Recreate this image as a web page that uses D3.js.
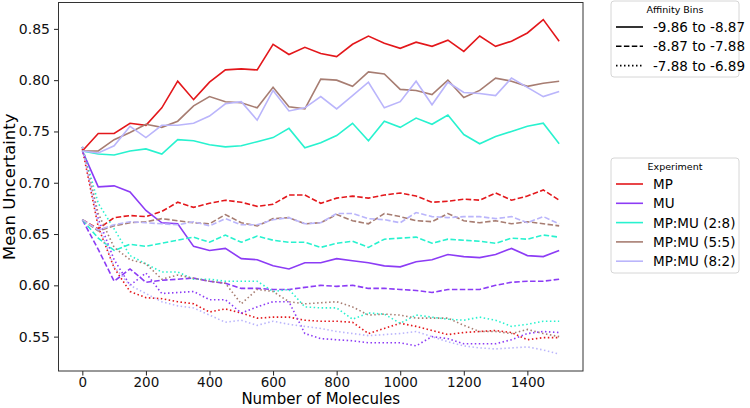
<!DOCTYPE html>
<html>
<head>
<meta charset="utf-8">
<script src="https://cdn.jsdelivr.net/npm/d3@7"></script>
<style>
body { margin: 0; background: #fff; }
text { font-family: "DejaVu Sans", sans-serif; }
</style>
</head>
<body>
<div id="chart"></div>
<script>
// x values (number of molecules)
var molecules = [0, 50, 100, 150, 200, 250, 300, 350, 400, 450, 500, 550, 600, 650, 700, 750,
                 800, 850, 900, 950, 1000, 1050, 1100, 1150, 1200, 1250, 1300, 1350, 1400, 1450, 1500];

var experiments = ["MP", "MU", "MP:MU (2:8)", "MP:MU (5:5)", "MP:MU (8:2)"];
var expColors = ["#e3171b", "#8c3cf5", "#28f2cf", "#a77d72", "#bab5fb"];
var bins = ["-9.86 to -8.87", "-8.87 to -7.88", "-7.88 to -6.89"];

var xTicks = [0, 200, 400, 600, 800, 1000, 1200, 1400];
var yTicks = [0.55, 0.60, 0.65, 0.70, 0.75, 0.80, 0.85];

// MP
var mpBin1 = [0.731, 0.748, 0.748, 0.758, 0.756, 0.773, 0.799, 0.781, 0.798, 0.810, 0.811, 0.810, 0.835, 0.825, 0.832, 0.826,
              0.823, 0.835, 0.843, 0.836, 0.831, 0.837, 0.833, 0.839, 0.828, 0.843, 0.833, 0.838, 0.846, 0.859, 0.838];
var mpBin2 = [0.664, 0.655, 0.666, 0.668, 0.667, 0.672, 0.681, 0.676, 0.680, 0.683, 0.681, 0.677, 0.679, 0.688, 0.688, 0.680,
              0.685, 0.687, 0.685, 0.688, 0.690, 0.687, 0.681, 0.682, 0.684, 0.683, 0.690, 0.683, 0.687, 0.693, 0.683];
var mpBin3 = [0.733, 0.657, 0.617, 0.594, 0.588, 0.587, 0.584, 0.582, 0.574, 0.577, 0.573, 0.568, 0.569, 0.569, 0.566, 0.565,
              0.565, 0.564, 0.553, 0.558, 0.563, 0.560, 0.556, 0.552, 0.554, 0.555, 0.556, 0.554, 0.547, 0.549, 0.549];
// MU
var muBin1 = [0.731, 0.696, 0.697, 0.691, 0.673, 0.661, 0.660, 0.638, 0.634, 0.636, 0.626, 0.625, 0.619, 0.616, 0.622, 0.622,
              0.626, 0.624, 0.622, 0.619, 0.618, 0.623, 0.625, 0.630, 0.628, 0.627, 0.630, 0.636, 0.629, 0.628, 0.634];
var muBin2 = [0.664, 0.635, 0.604, 0.616, 0.603, 0.605, 0.606, 0.607, 0.604, 0.602, 0.597, 0.597, 0.596, 0.596, 0.598, 0.600,
              0.599, 0.600, 0.597, 0.597, 0.596, 0.595, 0.593, 0.596, 0.596, 0.596, 0.600, 0.603, 0.604, 0.604, 0.606];
var muBin3 = [0.735, 0.665, 0.625, 0.600, 0.612, 0.592, 0.593, 0.594, 0.586, 0.586, 0.573, 0.579, 0.584, 0.584, 0.553, 0.548,
              0.547, 0.546, 0.544, 0.544, 0.544, 0.541, 0.550, 0.548, 0.543, 0.543, 0.543, 0.547, 0.553, 0.555, 0.554];
// MP:MU (2:8)
var m28Bin1 = [0.731, 0.728, 0.727, 0.731, 0.733, 0.728, 0.742, 0.741, 0.737, 0.735, 0.736, 0.740, 0.744, 0.753, 0.734, 0.739,
               0.746, 0.758, 0.741, 0.760, 0.754, 0.763, 0.757, 0.766, 0.747, 0.738, 0.745, 0.750, 0.755, 0.758, 0.738];
var m28Bin2 = [0.664, 0.646, 0.634, 0.640, 0.638, 0.641, 0.644, 0.647, 0.642, 0.649, 0.642, 0.648, 0.644, 0.642, 0.642, 0.637,
               0.641, 0.643, 0.637, 0.645, 0.646, 0.647, 0.641, 0.645, 0.644, 0.643, 0.641, 0.646, 0.645, 0.649, 0.647];
var m28Bin3 = [0.735, 0.680, 0.655, 0.629, 0.621, 0.613, 0.613, 0.606, 0.606, 0.604, 0.604, 0.604, 0.594, 0.596, 0.579, 0.578,
               0.578, 0.567, 0.573, 0.572, 0.563, 0.571, 0.569, 0.567, 0.566, 0.569, 0.566, 0.560, 0.562, 0.565, 0.565];
// MP:MU (5:5)
var m55Bin1 = [0.731, 0.731, 0.742, 0.749, 0.757, 0.754, 0.760, 0.775, 0.784, 0.779, 0.778, 0.773, 0.793, 0.774, 0.772, 0.801,
               0.800, 0.794, 0.808, 0.806, 0.791, 0.790, 0.786, 0.800, 0.783, 0.790, 0.802, 0.799, 0.794, 0.797, 0.799];
var m55Bin2 = [0.664, 0.653, 0.658, 0.661, 0.662, 0.665, 0.663, 0.661, 0.660, 0.669, 0.661, 0.658, 0.665, 0.666, 0.660, 0.661,
               0.669, 0.663, 0.660, 0.670, 0.667, 0.663, 0.662, 0.670, 0.663, 0.661, 0.663, 0.660, 0.662, 0.660, 0.658];
var m55Bin3 = [0.735, 0.670, 0.637, 0.625, 0.621, 0.606, 0.610, 0.607, 0.604, 0.602, 0.582, 0.596, 0.594, 0.584, 0.582, 0.583,
               0.584, 0.579, 0.571, 0.572, 0.571, 0.568, 0.568, 0.568, 0.561, 0.555, 0.555, 0.553, 0.557, 0.553, 0.550];
// MP:MU (8:2)
var m82Bin1 = [0.731, 0.729, 0.736, 0.755, 0.744, 0.756, 0.756, 0.758, 0.765, 0.777, 0.779, 0.761, 0.790, 0.770, 0.773, 0.784,
               0.772, 0.785, 0.798, 0.773, 0.779, 0.799, 0.776, 0.798, 0.788, 0.787, 0.785, 0.802, 0.793, 0.784, 0.789];
var m82Bin2 = [0.664, 0.654, 0.659, 0.662, 0.661, 0.660, 0.659, 0.662, 0.658, 0.665, 0.659, 0.659, 0.664, 0.666, 0.660, 0.661,
               0.670, 0.670, 0.665, 0.664, 0.661, 0.671, 0.667, 0.666, 0.667, 0.667, 0.665, 0.667, 0.661, 0.667, 0.660];
var m82Bin3 = [0.735, 0.660, 0.618, 0.600, 0.592, 0.584, 0.580, 0.578, 0.571, 0.564, 0.566, 0.561, 0.565, 0.562, 0.560, 0.558,
               0.555, 0.553, 0.551, 0.552, 0.553, 0.555, 0.550, 0.545, 0.541, 0.539, 0.538, 0.539, 0.540, 0.537, 0.533];

var seriesValues = [
    [mpBin1, mpBin2, mpBin3],
    [muBin1, muBin2, muBin3],
    [m28Bin1, m28Bin2, m28Bin3],
    [m55Bin1, m55Bin2, m55Bin3],
    [m82Bin1, m82Bin2, m82Bin3]
];

var dashes = [null, "5.5,2.4", "1.5,2.5"];

var width = 750, height = 408;
var margin = {left: 58.5, right: 167, top: 2.5, bottom: 37};

var svg = d3.select("#chart").append("svg")
    .attr("width", width)
    .attr("height", height);

var x = d3.scaleLinear()
    .domain([-75, 1575])
    .range([margin.left, width - margin.right]);

var y = d3.scaleLinear()
    .domain([0.5165, 0.8757])
    .range([height - margin.bottom, margin.top]);

var line = d3.line()
    .x(function(d, i) { return x(molecules[i]); })
    .y(function(d) { return y(d); });

// lines
var plot = svg.append("g");
seriesValues.forEach(function(group, e) {
    group.forEach(function(vals, b) {
        plot.append("path")
            .datum(vals)
            .attr("d", line)
            .attr("fill", "none")
            .attr("stroke", expColors[e])
            .attr("stroke-width", 1.6)
            .attr("stroke-dasharray", dashes[b]);
    });
});

// axes
var xAxis = svg.append("g")
    .attr("class", "xaxis")
    .attr("transform", "translate(0," + (height - margin.bottom) + ")")
    .call(d3.axisBottom(x).tickValues(xTicks).tickFormat(d3.format("d")).tickSize(4.5).tickPadding(2));

svg.append("g")
    .attr("transform", "translate(" + margin.left + ",0)")
    .call(d3.axisLeft(y).tickValues(yTicks).tickFormat(d3.format(".2f")).tickSize(4.5).tickPadding(4));

svg.selectAll(".domain").remove();
svg.selectAll(".tick line").attr("stroke", "#222").attr("stroke-width", 1);
svg.selectAll(".tick text").attr("font-size", 14).attr("fill", "#111")
    .style("font-family", "DejaVu Sans, sans-serif");
xAxis.selectAll(".tick text").attr("font-size", 13.5);

// frame
svg.append("rect")
    .attr("x", margin.left)
    .attr("y", margin.top)
    .attr("width", width - margin.right - margin.left)
    .attr("height", height - margin.bottom - margin.top)
    .attr("fill", "none")
    .attr("stroke", "#333")
    .attr("stroke-width", 1);

// axis labels
svg.append("text")
    .attr("x", (margin.left + width - margin.right) / 2)
    .attr("y", 404.3)
    .attr("text-anchor", "middle")
    .attr("font-size", 15)
    .text("Number of Molecules");

svg.append("text")
    .attr("transform", "translate(15," + ((margin.top + height - margin.bottom) / 2) + ") rotate(-90)")
    .attr("text-anchor", "middle")
    .attr("font-size", 16.5)
    .text("Mean Uncertainty");

// legends
function legend(top, h, title, items) {
    var g = svg.append("g").attr("transform", "translate(611," + top + ")");
    g.append("rect")
        .attr("width", 128).attr("height", h)
        .attr("rx", 3)
        .attr("fill", "#fff").attr("fill-opacity", 0.8)
        .attr("stroke", "#d6d6d6");
    g.append("text")
        .attr("x", 64).attr("y", 12)
        .attr("text-anchor", "middle")
        .attr("font-size", 9.5)
        .text(title);
    items.forEach(function(it, i) {
        var yy = 26 + i * 19.3;
        g.append("line")
            .attr("x1", 5).attr("x2", 32)
            .attr("y1", yy).attr("y2", yy)
            .attr("stroke", it.color)
            .attr("stroke-width", 1.6)
            .attr("stroke-dasharray", it.dash);
        g.append("text")
            .attr("x", 42).attr("y", yy + 5)
            .attr("font-size", 13.5)
            .text(it.label);
    });
}

legend(1, 76, "Affinity Bins", bins.map(function(b, i) {
    return {label: b, color: "#000", dash: dashes[i]};
}));

legend(158, 115, "Experiment", experiments.map(function(e, i) {
    return {label: e, color: expColors[i], dash: null};
}));
</script>
</body>
</html>
